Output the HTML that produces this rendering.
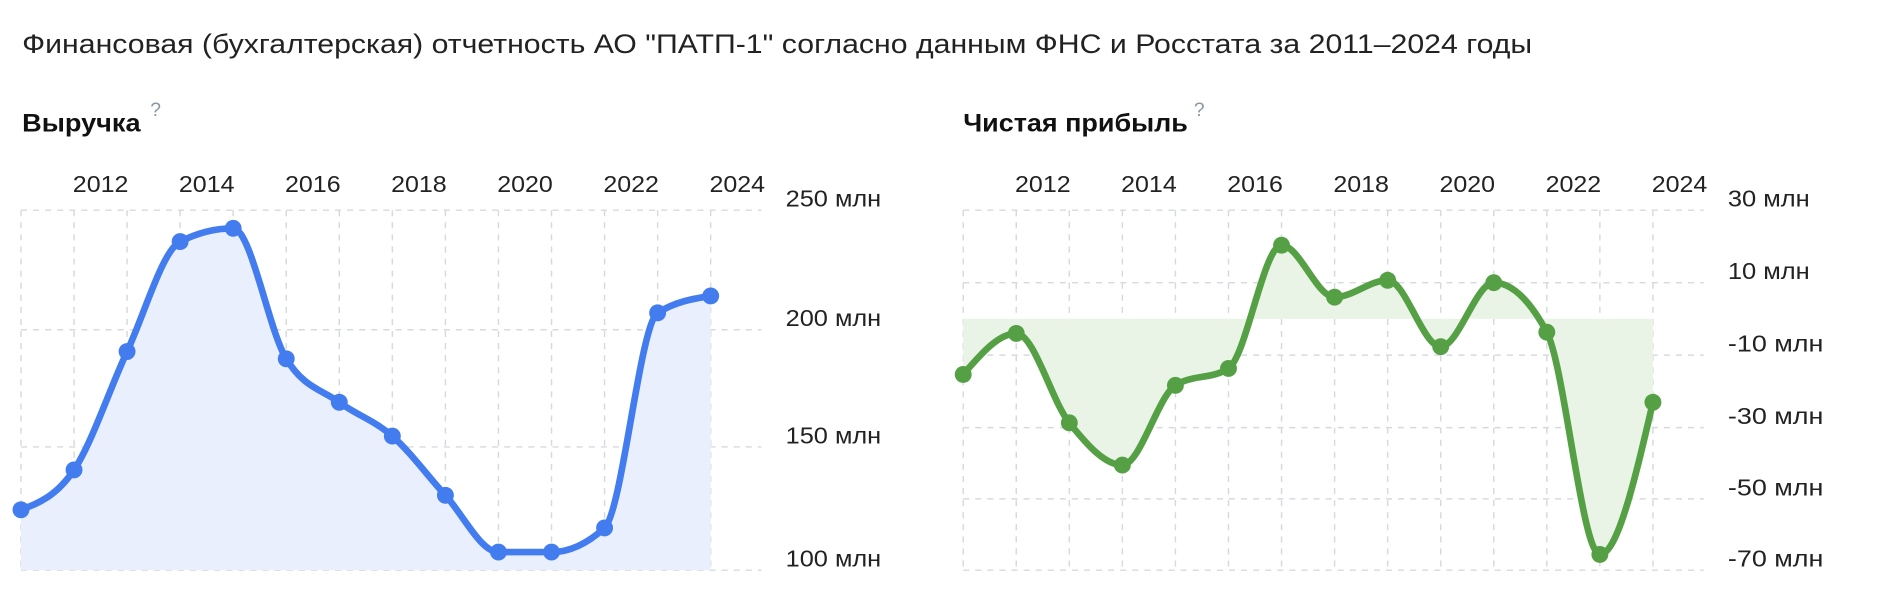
<!DOCTYPE html>
<html><head><meta charset="utf-8"><style>
html,body{margin:0;padding:0;background:#fff;}
svg{display:block;}
text{font-family:"Liberation Sans",sans-serif;}
</style></head><body>
<svg id="s" width="1895" height="604" viewBox="0 0 1568 500" xmlns="http://www.w3.org/2000/svg">
<text x="18" y="44" font-size="22" fill="#222" textLength="1250" lengthAdjust="spacingAndGlyphs">Финансовая (бухгалтерская) отчетность АО "ПАТП-1" согласно данным ФНС и Росстата за 2011–2024 годы</text>
<text x="18" y="109" font-size="21" font-weight="bold" fill="#111" textLength="98" lengthAdjust="spacingAndGlyphs">Выручка</text>
<text x="124" y="96" font-size="16" fill="#8a96a3">?</text>
<text x="797" y="109" font-size="21" font-weight="bold" fill="#111" textLength="186" lengthAdjust="spacingAndGlyphs">Чистая прибыль</text>
<text x="988" y="96" font-size="16" fill="#8a96a3">?</text>
<g id="g"></g>
</svg>
<script>
const NS="http://www.w3.org/2000/svg";
const g=document.getElementById('g');
function el(t,a,txt){const e=document.createElementNS(NS,t);for(const k in a)e.setAttribute(k,a[k]);if(txt)e.textContent=txt;g.appendChild(e);return e;}
function mono(xs,ys){const n=xs.length;const d=[],m=[];for(let i=0;i<n-1;i++){d.push((ys[i+1]-ys[i])/(xs[i+1]-xs[i]));}
m[0]=d[0];m[n-1]=d[n-2];for(let i=1;i<n-1;i++){if(d[i-1]*d[i]<=0)m[i]=0;else{const h0=xs[i]-xs[i-1],h1=xs[i+1]-xs[i];const p=(d[i-1]*h1+d[i]*h0)/(h0+h1);m[i]=(Math.sign(d[i-1])+Math.sign(d[i]))*Math.min(Math.abs(d[i-1]),Math.abs(d[i]),0.5*Math.abs(p));}}
m[0]=(3*d[0]-m[1])/2;m[n-1]=(3*d[n-2]-m[n-2])/2;
let p="M"+xs[0]+","+ys[0];for(let i=0;i<n-1;i++){const h=(xs[i+1]-xs[i])/3;p+=` C${xs[i]+h},${ys[i]+m[i]*h} ${xs[i+1]-h},${ys[i+1]-m[i+1]*h} ${xs[i+1]},${ys[i+1]}`;}return p;}
function chart(x0,ys,hl,labels,lblX,color,fill,base){
 const step=43.92;const xs=ys.map((_,i)=>x0+i*step);
 const right=x0+613;
 for(let i=0;i<14;i++)el('line',{x1:xs[i],x2:xs[i],y1:174,y2:472,stroke:'#d6d9de','stroke-width':1.2,'stroke-dasharray':'5,5'});
 hl.forEach(y=>el('line',{x1:x0,x2:right,y1:y,y2:y,stroke:'#d6d9de','stroke-width':1.2,'stroke-dasharray':'5,5'}));
 for(let i=1;i<14;i+=2)el('text',{x:xs[i]+22,y:159,'font-size':19,'text-anchor':'middle',fill:'#222',textLength:46,lengthAdjust:'spacingAndGlyphs'},String(2011+i));
 labels.forEach((t,i)=>el('text',{x:lblX,y:hl[i]-3,'font-size':19,fill:'#222',textLength:t.length*11.3,lengthAdjust:'spacingAndGlyphs'},t));
 const p=mono(xs,ys);
 el('path',{d:p+` L${xs[13]},${base} L${xs[0]},${base} Z`,fill:fill});
 el('path',{d:p,fill:'none',stroke:color,'stroke-width':5.5,'stroke-linejoin':'round','stroke-linecap':'round'});
 xs.forEach((x,i)=>el('circle',{cx:x,cy:ys[i],r:7,fill:color}));
}
chart(17,[422,389,291,200,189,297,333,361,410,457,457,437,259,245],[174,273,370,472],['250 млн','200 млн','150 млн','100 млн'],650,'#427cef','#e9effc',472);
chart(797,[310,276,350,385,319,305,203,246,232,287,234,275,459,333],[174,234,294,354,413,472],['30 млн','10 млн','-10 млн','-30 млн','-50 млн','-70 млн'],1430,'#55a045','#e9f4e7',264);
</script>
</body></html>
